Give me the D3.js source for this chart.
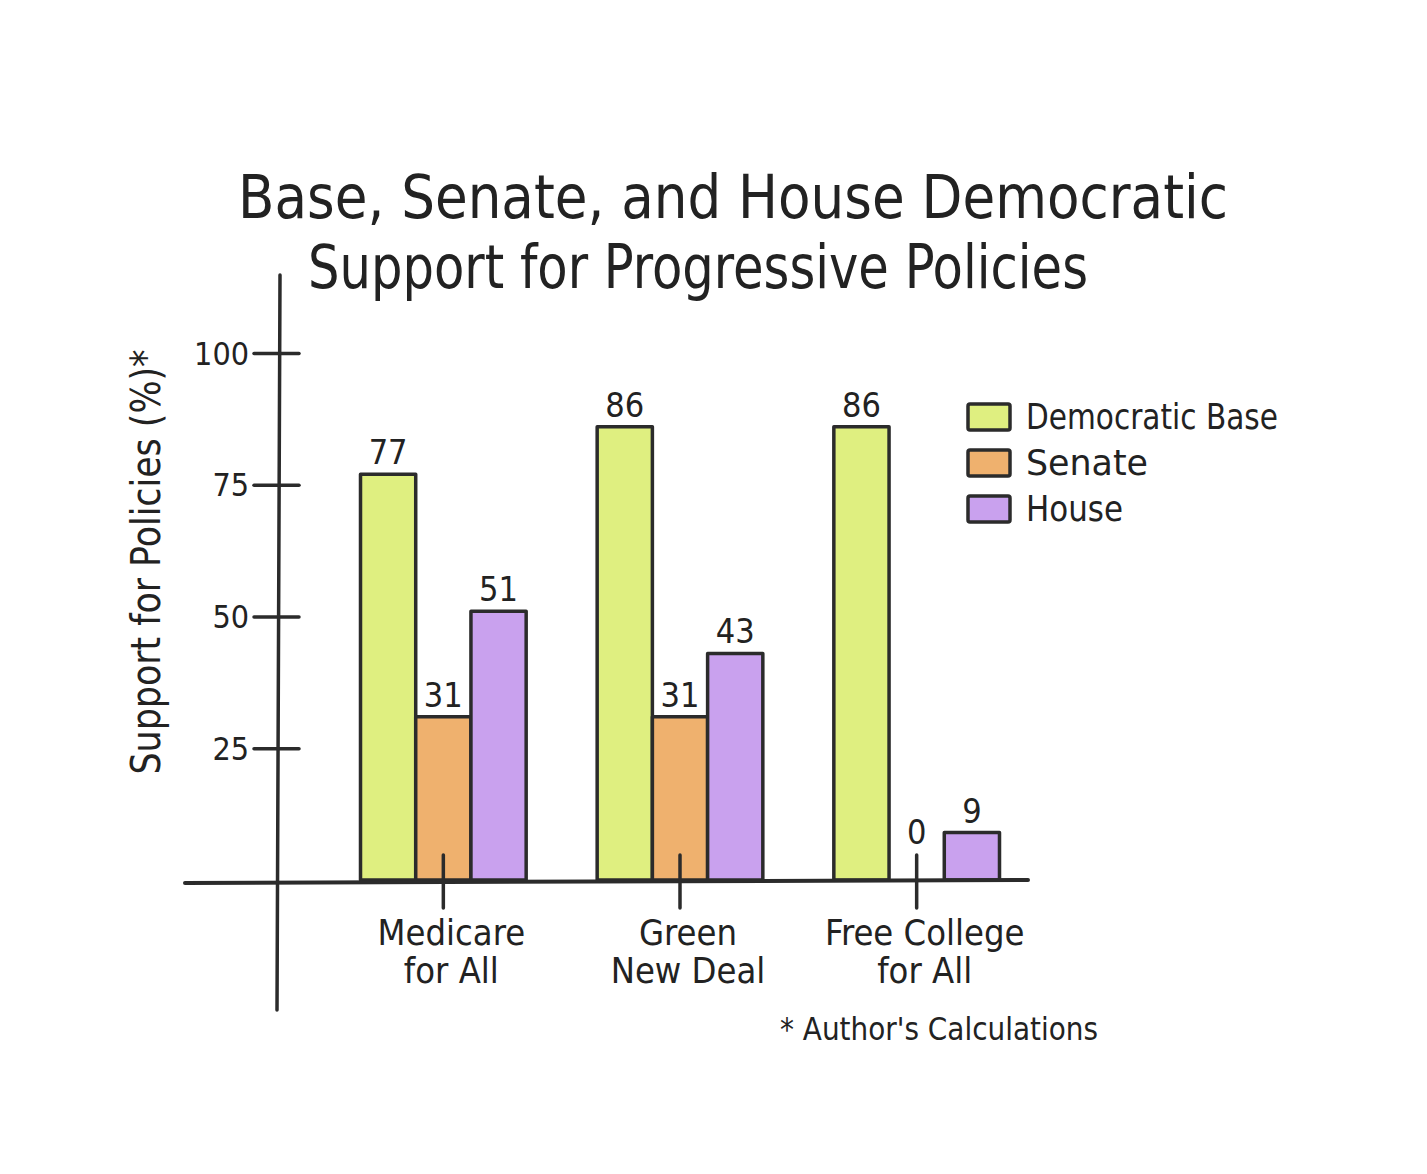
<!DOCTYPE html>
<html>
<head>
<meta charset="utf-8">
<script src="https://cdn.jsdelivr.net/npm/d3@7"></script>
<style>
  html, body { margin: 0; padding: 0; background: #fff; }
  svg text { font-family: "Liberation Sans Narrow", "DejaVu Sans Condensed", "Roboto", sans-serif; fill: #222; }
</style>
</head>
<body>
<svg id="chart" width="1427" height="1174"></svg>
<script>
const categories = ["Medicare for All", "Green New Deal", "Free College for All"];
const categoryLines = [["Medicare", "for All"], ["Green", "New Deal"], ["Free College", "for All"]];
const seriesNames = ["Democratic Base", "Senate", "House"];
const democraticBase = [77, 86, 86];
const senate = [31, 31, 0];
const house = [51, 43, 9];
const yTicks = [25, 50, 75, 100];
const colors = ["#dfef80", "#efb16e", "#c9a1ee"];
const titleLines = ["Base, Senate, and House Democratic", "Support for Progressive Policies"];
const yLabel = "Support for Policies (%)*";
const footnote = "* Author's Calculations";

const series = [democraticBase, senate, house];
const svg = d3.select("#chart");
const ink = "#2b2b2b";
const fam = "\"Liberation Sans Narrow\", \"DejaVu Sans Condensed\", sans-serif";

const x = d3.scaleBand().domain(categories).range([325, 1035]).paddingInner(0.3).paddingOuter(0.15);
const xs = d3.scaleBand().domain(seriesNames).range([0, x.bandwidth()]).padding(0);
const y = d3.scaleLinear().domain([0, 100]).range([880, 353]);

// Title
svg.append("text").attr("x", 733).attr("y", 218).attr("text-anchor", "middle")
  .attr("font-size", 60).attr("textLength", 990).attr("lengthAdjust", "spacingAndGlyphs").text(titleLines[0]);
svg.append("text").attr("x", 698).attr("y", 288).attr("text-anchor", "middle")
  .attr("font-size", 60).attr("textLength", 780).attr("lengthAdjust", "spacingAndGlyphs").text(titleLines[1]);

// Bars
const g = svg.append("g");
categories.forEach((c, i) => {
  series.forEach((s, j) => {
    const v = s[i];
    const bx = x(c) + xs(seriesNames[j]);
    if (v > 0) {
      g.append("rect").attr("x", bx).attr("y", y(v)).attr("width", xs.bandwidth()).attr("height", y(0) - y(v))
        .attr("fill", colors[j]).attr("stroke", ink).attr("stroke-width", 3.5).attr("stroke-linejoin", "round");
    }
    g.append("text").attr("x", bx + xs.bandwidth() / 2).attr("y", y(v) - (v > 0 ? 10 : 36)).attr("text-anchor", "middle")
      .attr("font-size", 34).text(v);
  });
});

// Y axis
const yAxis = d3.axisLeft(y).tickValues(yTicks).tickSize(25).tickPadding(8);
const ya = svg.append("g").attr("transform", "translate(279,0)").call(yAxis);
ya.select(".domain").remove();
ya.selectAll(".tick line").attr("x1", 20).attr("x2", -25).attr("stroke", ink).attr("stroke-width", 3.5).attr("stroke-linecap", "round");
ya.selectAll(".tick text").attr("font-size", 32).attr("fill", "#222").attr("x", -30).attr("dy", "0.35em")
  .style("font-family", fam);
svg.append("line").attr("x1", 280).attr("y1", 275).attr("x2", 277).attr("y2", 1010)
  .attr("stroke", ink).attr("stroke-width", 3.5).attr("stroke-linecap", "round");

// X axis
svg.append("line").attr("x1", 185).attr("y1", y(0) + 3).attr("x2", 1028).attr("y2", y(0))
  .attr("stroke", ink).attr("stroke-width", 4).attr("stroke-linecap", "round");
const xAxis = d3.axisBottom(x).tickSize(0).tickFormat("");
const xa = svg.append("g").attr("transform", `translate(0,${y(0)})`).call(xAxis);
xa.select(".domain").remove();
xa.selectAll(".tick").append("line").attr("y1", -25).attr("y2", 28).attr("stroke", ink).attr("stroke-width", 3.5).attr("stroke-linecap", "round");
xa.selectAll(".tick").each(function(d, i) {
  const t = d3.select(this).append("text").attr("text-anchor", "middle").attr("font-size", 36).attr("fill", "#222")
    .style("font-family", fam);
  categoryLines[i].forEach((ln, k) => t.append("tspan").attr("x", 8).attr("y", 65 + k * 38).text(ln));
});

// Y label
svg.append("text").attr("transform", "translate(160,562) rotate(-90)").attr("text-anchor", "middle")
  .attr("font-size", 40).attr("textLength", 425).attr("lengthAdjust", "spacingAndGlyphs").text(yLabel);

// Legend
const legendWidths = [252, 122, 97];
const legend = svg.append("g").attr("transform", "translate(968,404)");
seriesNames.forEach((n, j) => {
  const row = legend.append("g").attr("transform", `translate(0,${j * 46})`);
  row.append("rect").attr("width", 42).attr("height", 26).attr("fill", colors[j]).attr("stroke", ink).attr("stroke-width", 3.5).attr("rx", 2);
  row.append("text").attr("x", 58).attr("y", 25).attr("font-size", 36)
    .attr("textLength", legendWidths[j]).attr("lengthAdjust", "spacingAndGlyphs").text(n);
});

// Footnote
svg.append("text").attr("x", 780).attr("y", 1040).attr("font-size", 32).attr("textLength", 318).attr("lengthAdjust", "spacingAndGlyphs").text(footnote);
</script>
</body>
</html>
